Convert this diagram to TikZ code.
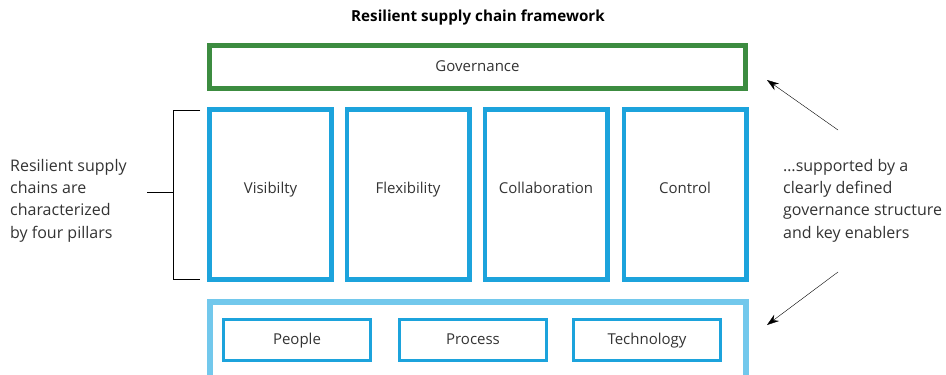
\documentclass[tikz,border=0pt]{standalone}
\usepackage{fontspec}
\setmainfont{Open Sans}
\usetikzlibrary{arrows.meta,positioning}
\definecolor{govgreen}{HTML}{3C8C40}
\definecolor{pillarblue}{HTML}{1CA3DC}
\definecolor{enabblue}{HTML}{72C8EC}
\definecolor{txtgray}{HTML}{333333}
\tikzset{
    pillar/.style={draw=pillarblue,line width=4.7pt,minimum width=122.3pt,minimum height=170.3pt,inner sep=0pt},
    enabler/.style={draw=pillarblue,line width=2.6pt,minimum width=147.4pt,minimum height=41.4pt,inner sep=0pt,boxtext},
    boxtext/.style={text height=12.5pt,text depth=3pt},
    note/.style={align=left,anchor=north west,inner sep=0pt,text=txtgray,font=\fontsize{16}{22.3}\selectfont},
}
\begin{document}
\begin{tikzpicture}[x=1pt,y=-1pt,font=\fontsize{15}{18}\selectfont,text=txtgray]
        \useasboundingbox (0,0) rectangle (946,375);
        \node[font=\bfseries\fontsize{15.2}{18}\selectfont,text=black] (title) at (478,18) {Resilient supply chain framework};
        % governance bar
        \node[draw=govgreen,line width=5pt,minimum width=536pt,minimum height=43pt,inner sep=0pt,boxtext] (gov) at (477.5,67) {Governance};
        % the four pillars
        \node[pillar] (vis) at (270.5,194.5) {};
        \node[pillar] (flex) at (408,194.5) {};
        \node[pillar] (collab) at (546,194.5) {};
        \node[pillar] (ctrl) at (685,194.5) {};
        \node[boxtext] at ([yshift=5.5pt]vis.center) {Visibilty};
        \node[boxtext] at ([yshift=5.5pt]flex.center) {Flexibility};
        \node[boxtext] at ([yshift=5.5pt]collab.center) {Collaboration};
        \node[boxtext] at ([yshift=5.5pt]ctrl.center) {Control};
        % enablers, open at the bottom
        \draw[enabblue,line width=5.5pt] (209.75,380) -- (209.75,302) -- (745.75,302) -- (745.75,380);
        \node[enabler] (people) at (297,340) {People};
        \node[enabler] (process) at (473,340) {Process};
        \node[enabler] (tech) at (647,340) {Technology};
        % bracket and notes
        \coordinate (btop) at (200,110);
        \coordinate (bbot) at (200,279);
        \draw[thin,black] (btop) -- (173,110) -- (173,279) -- (bbot);
        \draw[thin,black] (173,192) -- (147,192);
        \node[note] (pillarsnote) at (10,159) {Resilient supply\\chains are\\characterized\\by four pillars};
        \node[note] (enablersnote) at (783,159) {…supported by a\\clearly defined\\governance structure\\and key enablers};
        \coordinate (up) at (838,130);
        \coordinate (upend) at (767,80);
        \coordinate (down) at (838,272);
        \coordinate (downend) at (767,325);
        \draw[black,thin,-{Stealth[length=12pt,width=8pt]}] (up) -- (upend);
        \draw[black,thin,-{Stealth[length=12pt,width=8pt]}] (down) -- (downend);
    \end{tikzpicture}
\end{document}
